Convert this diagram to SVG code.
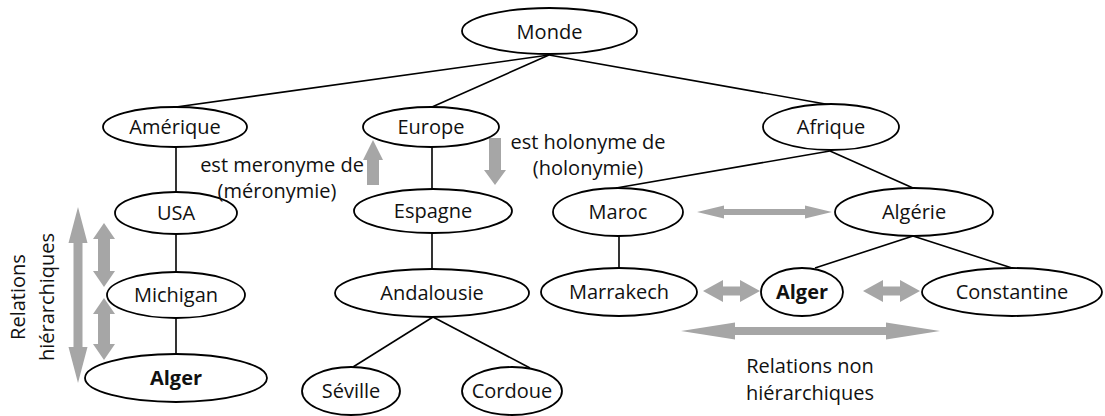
<svg xmlns="http://www.w3.org/2000/svg" width="1105" height="416" viewBox="0 0 1105 416">
  <style>
    .node ellipse { fill: #ffffff; stroke: #000000; stroke-width: 1.8; }
    .node text, .label { font-family: "Open Sans", "Noto Sans", sans-serif; font-size: 20px; fill: #111111; text-anchor: middle; }
    .node text.bold { font-weight: 700; }
    #connectors line { stroke: #000000; stroke-width: 1.6; }
    .rel { fill: #a6a6a6; stroke: none; }
  </style>
  <rect width="1105" height="416" fill="#ffffff"/>

  <!-- tree edges -->
  <g id="connectors">
    <line x1="549" y1="55" x2="176" y2="107"/>
    <line x1="549" y1="55" x2="432" y2="107"/>
    <line x1="549" y1="55" x2="831" y2="105"/>
    <line x1="176" y1="147" x2="176" y2="192"/>
    <line x1="176" y1="234" x2="176" y2="272"/>
    <line x1="176" y1="318" x2="176" y2="354"/>
    <line x1="432" y1="147" x2="432" y2="189"/>
    <line x1="432" y1="233" x2="432" y2="269"/>
    <line x1="433" y1="317" x2="353" y2="367"/>
    <line x1="433" y1="317" x2="530" y2="368"/>
    <line x1="830" y1="151" x2="616" y2="188"/>
    <line x1="830" y1="151" x2="913" y2="188"/>
    <line x1="619" y1="236" x2="619" y2="268"/>
    <line x1="913" y1="236" x2="815" y2="268"/>
    <line x1="913" y1="236" x2="1012" y2="268"/>
  </g>

  <!-- relation arrows -->
  <g id="relation-arrows">
    <!-- hierarchical, left side -->
    <polygon class="rel" points="78,207 87.5,243 82.5,243 82.5,347 87.5,347 78,383 68.5,347 73.5,347 73.5,243 68.5,243"/>
    <polygon class="rel" points="104,223 115,239 110,239 110,271 115,271 104,287 93,271 98,271 98,239 93,239"/>
    <polygon class="rel" points="104,298 115,314 110,314 110,344 115,344 104,360 93,344 98,344 98,314 93,314"/>
    <!-- meronymy (up) and holonymy (down) -->
    <polygon class="rel" points="373,140 383,160 379,160 379,185 367,185 367,160 363,160"/>
    <polygon class="rel" points="495,185 506,170 501,170 501,138 489,138 489,170 484,170"/>
    <!-- non hierarchical -->
    <polygon class="rel" points="697,212 724,205.5 724,209 805,209 805,205.5 832,212 805,218.5 805,215 724,215 724,218.5"/>
    <polygon class="rel" points="703,291 723,280 723,286.5 740,286.5 740,280 760,291 740,302 740,295.5 723,295.5 723,302"/>
    <polygon class="rel" points="863,291 883,280 883,286.5 900,286.5 900,280 920,291 900,302 900,295.5 883,295.5 883,302"/>
    <polygon class="rel" points="681,331 735,322.5 735,327 886,327 886,322.5 940,331 886,339.5 886,335 735,335 735,339.5"/>
  </g>

  <!-- nodes -->
  <g id="monde" class="node"><ellipse cx="549.5" cy="31" rx="87.5" ry="23"/><text x="549.5" y="39">Monde</text></g>
  <g id="amerique" class="node"><ellipse cx="175" cy="127" rx="72" ry="20"/><text x="175" y="134">Amérique</text></g>
  <g id="europe" class="node"><ellipse cx="431" cy="127" rx="68" ry="20"/><text x="431" y="134">Europe</text></g>
  <g id="afrique" class="node"><ellipse cx="831" cy="127" rx="68" ry="23"/><text x="831" y="134">Afrique</text></g>
  <g id="usa" class="node"><ellipse cx="176" cy="213" rx="61" ry="21"/><text x="176" y="220">USA</text></g>
  <g id="espagne" class="node"><ellipse cx="433" cy="211" rx="79" ry="22"/><text x="433" y="218">Espagne</text></g>
  <g id="maroc" class="node"><ellipse cx="618" cy="212" rx="65" ry="24"/><text x="618" y="219">Maroc</text></g>
  <g id="algerie" class="node"><ellipse cx="914" cy="212" rx="79" ry="24"/><text x="914" y="219">Algérie</text></g>
  <g id="michigan" class="node"><ellipse cx="176" cy="295" rx="69" ry="23"/><text x="176" y="302">Michigan</text></g>
  <g id="andalousie" class="node"><ellipse cx="432" cy="293" rx="97" ry="24"/><text x="432" y="300">Andalousie</text></g>
  <g id="marrakech" class="node"><ellipse cx="619" cy="292" rx="78" ry="24"/><text x="619" y="299">Marrakech</text></g>
  <g id="alger-dz" class="node"><ellipse cx="802" cy="292" rx="41" ry="24"/><text class="bold" x="802" y="299">Alger</text></g>
  <g id="constantine" class="node"><ellipse cx="1012" cy="292" rx="90" ry="24"/><text x="1012" y="299">Constantine</text></g>
  <g id="alger-us" class="node"><ellipse cx="176" cy="378" rx="91" ry="24"/><text class="bold" x="176" y="385">Alger</text></g>
  <g id="seville" class="node"><ellipse cx="351" cy="391" rx="49" ry="24"/><text x="351" y="398">Séville</text></g>
  <g id="cordoue" class="node"><ellipse cx="512" cy="391" rx="50" ry="24"/><text x="512" y="398">Cordoue</text></g>

  <!-- relation labels -->
  <g id="labels">
    <text class="label" x="282" y="172">est meronyme de</text>
    <text class="label" x="277" y="198">(méronymie)</text>
    <text class="label" x="588" y="149">est holonyme de</text>
    <text class="label" x="588" y="175">(holonymie)</text>
    <text class="label" transform="translate(25,297) rotate(-90)">Relations</text>
    <text class="label" transform="translate(54,297) rotate(-90)">hiérarchiques</text>
    <text class="label" x="810" y="373">Relations non</text>
    <text class="label" x="810" y="400">hiérarchiques</text>
  </g>
</svg>
